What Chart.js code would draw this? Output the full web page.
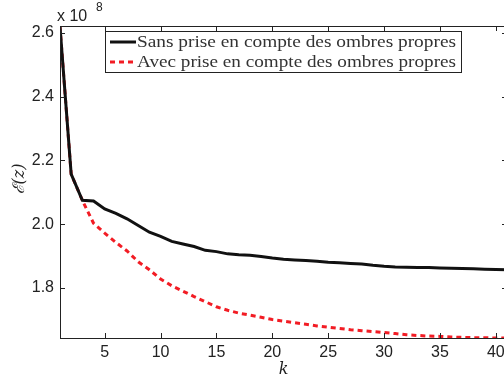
<!DOCTYPE html>
<html>
<head>
<meta charset="utf-8">
<script src="https://cdn.jsdelivr.net/npm/chart.js@4.4.1/dist/chart.umd.min.js"></script>
<style>
html, body { margin: 0; padding: 0; background: #fff; overflow: hidden; }
#wrap { width: 510px; height: 378px; }
</style>
</head>
<body>
<div id="wrap"><canvas id="energy_chart" width="510" height="378"></canvas></div>
<script>
// iterations
const k = [1, 2, 3, 4, 5, 6, 7, 8, 9, 10, 11, 12, 13, 14, 15, 16, 17, 18, 19, 20,
           21, 22, 23, 24, 25, 26, 27, 28, 29, 30, 31, 32, 33, 34, 35, 36, 37, 38, 39, 40, 41];
// E(z) in units of 1e8
const sansOmbres = [2.62, 2.157, 2.075, 2.073, 2.048, 2.034, 2.017, 1.996, 1.975, 1.962,
                    1.946, 1.938, 1.930, 1.918, 1.914, 1.907, 1.904, 1.903, 1.899, 1.894,
                    1.890, 1.888, 1.886, 1.884, 1.881, 1.879, 1.877, 1.875, 1.871, 1.868,
                    1.866, 1.865, 1.864, 1.864, 1.863, 1.862, 1.861, 1.860, 1.859, 1.858, 1.857];
const avecOmbres = [2.62, 2.157, 2.075, 2.003, 1.972, 1.943, 1.916, 1.882, 1.857, 1.828,
                    1.807, 1.790, 1.773, 1.757, 1.741, 1.730, 1.721, 1.715, 1.708, 1.701,
                    1.696, 1.691, 1.686, 1.681, 1.677, 1.673, 1.669, 1.666, 1.663, 1.660,
                    1.657, 1.653, 1.651, 1.649, 1.648, 1.646, 1.645, 1.644, 1.644, 1.643, 1.643];
const xTicks = [5, 10, 15, 20, 25, 30, 35, 40];
const yTicks = [1.8, 2, 2.2, 2.4, 2.6];

const AXIS_COLOR = '#222';
const TICK_FONT = { family: 'Liberation Sans, Arial, sans-serif', size: 16 };

// box around the axes with inward ticks, exponent, axis titles and legend
const matlabFrame = {
    id: 'matlabFrame',
    afterDraw(chart) {
        const ctx = chart.ctx;
        const a = chart.chartArea;
        const sx = chart.scales.x, sy = chart.scales.y;
        ctx.save();
        ctx.strokeStyle = AXIS_COLOR;
        ctx.lineWidth = 1;
        ctx.strokeRect(a.left + 0.5, a.top + 0.5, a.right - a.left, a.bottom - a.top);
        ctx.beginPath();
        xTicks.forEach(t => {
            const px = Math.round(sx.getPixelForValue(t)) + 0.5;
            ctx.moveTo(px, a.bottom); ctx.lineTo(px, a.bottom - 5);
            ctx.moveTo(px, a.top); ctx.lineTo(px, a.top + 5);
        });
        yTicks.forEach(t => {
            const py = Math.round(sy.getPixelForValue(t)) + 0.5;
            ctx.moveTo(a.left, py); ctx.lineTo(a.left + 5, py);
            ctx.moveTo(a.right, py); ctx.lineTo(a.right - 5, py);
        });
        ctx.stroke();

        // exponent
        ctx.fillStyle = AXIS_COLOR;
        ctx.textBaseline = 'alphabetic';
        ctx.textAlign = 'left';
        ctx.font = '16px Liberation Sans, Arial, sans-serif';
        ctx.fillText('x 10', 57, 21);
        ctx.font = '12px Liberation Sans, Arial, sans-serif';
        ctx.fillText('8', 96, 11);

        // axis titles
        ctx.font = 'italic 16px DejaVu Serif, serif';
        ctx.textAlign = 'center';
        ctx.fillText('k', sx.getPixelForValue(21), 374);
        ctx.save();
        ctx.translate(24, (a.top + a.bottom) / 2 - 3);
        ctx.rotate(-Math.PI / 2);
        ctx.fillText('ℰ(z)', 0, 0);
        ctx.restore();

        // legend
        const lx = 105, ly = 31, lw = 356, lh = 41;
        ctx.fillStyle = '#fff';
        ctx.fillRect(lx, ly, lw, lh);
        ctx.strokeStyle = AXIS_COLOR;
        ctx.strokeRect(lx + 0.5, ly + 0.5, lw, lh);
        ctx.font = '17px Liberation Serif, Times New Roman, serif';
        ctx.textAlign = 'left';
        ctx.textBaseline = 'middle';
        chart.data.datasets.forEach((ds, i) => {
            const yy = ly + 11 + i * 20;
            ctx.strokeStyle = ds.borderColor;
            ctx.lineWidth = ds.borderWidth;
            ctx.setLineDash(ds.borderDash || []);
            ctx.beginPath();
            ctx.moveTo(110, yy); ctx.lineTo(136, yy);
            ctx.stroke();
            ctx.setLineDash([]);
            // stretch the label to the width of the box
            const w = ctx.measureText(ds.label).width;
            ctx.save();
            ctx.translate(137, yy + 1);
            ctx.scale(319 / w, 1);
            ctx.fillStyle = '#333';
            ctx.fillText(ds.label, 0, 0);
            ctx.restore();
        });
        ctx.restore();
    }
};

const points = vals => k.map((kk, i) => ({ x: kk, y: vals[i] }));

new Chart(document.getElementById('energy_chart'), {
    type: 'line',
    data: {
        datasets: [{
            label: 'Sans prise en compte des ombres propres',
            data: points(sansOmbres),
            borderColor: '#111',
            borderWidth: 3,
            pointRadius: 0,
            tension: 0
        }, {
            label: 'Avec prise en compte des ombres propres',
            data: points(avecOmbres),
            borderColor: '#f21c24',
            borderWidth: 3,
            borderDash: [5, 4],
            pointRadius: 0,
            tension: 0
        }]
    },
    options: {
        responsive: false,
        animation: false,
        devicePixelRatio: 1,
        layout: { padding: { left: 0, right: 3, top: 26, bottom: 0 } },
        plugins: {
            legend: { display: false },
            tooltip: { enabled: false }
        },
        scales: {
            x: {
                type: 'linear',
                min: 1,
                max: 41,
                grid: { display: false, drawTicks: false },
                border: { display: false },
                afterBuildTicks: s => { s.ticks = xTicks.map(v => ({ value: v })); },
                afterFit: s => { s.height = 40; },
                ticks: { color: AXIS_COLOR, font: TICK_FONT, padding: 5, maxRotation: 0 }
            },
            y: {
                min: 1.643,
                max: 2.622,
                grid: { display: false, drawTicks: false },
                border: { display: false },
                afterBuildTicks: s => { s.ticks = yTicks.map(v => ({ value: v })); },
                afterFit: s => { s.width = 60; },
                ticks: { color: AXIS_COLOR, font: TICK_FONT, padding: 6 }
            }
        }
    },
    plugins: [matlabFrame]
});
</script>
</body>
</html>
